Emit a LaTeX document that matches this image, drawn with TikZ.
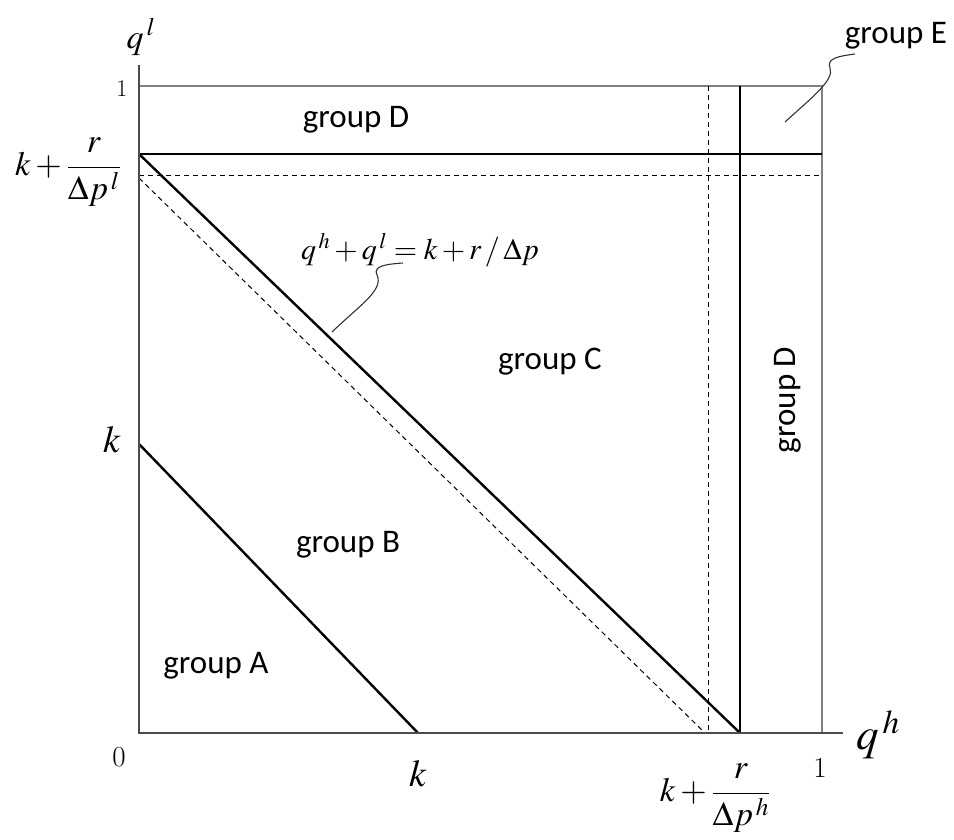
\documentclass[tikz,border=0pt]{standalone}
\usepackage{mathptmx}
\usepackage[no-math]{fontspec}
\setsansfont{Carlito}
\begin{document}
\begin{tikzpicture}[x=1pt,y=-1pt,
  axis/.style={draw=black!70, line width=1.6pt},
  frame/.style={draw=black!50, line width=1.2pt},
  thick line/.style={draw=black, line width=2.4pt},
  dash line/.style={draw=black, line width=1pt, dash pattern=on 5pt off 4pt},
  leader/.style={draw=black!80, line width=1.1pt},
  grp/.style={font=\sffamily\fontsize{33}{38}\selectfont, inner sep=0pt},
  mlab/.style={inner sep=0pt}
]
\useasboundingbox (0,0) rectangle (954,840);
% coordinates
\coordinate (O) at (139,733);
\coordinate (Ytop) at (139,65);
\coordinate (Xend) at (843,733);
\coordinate (TL) at (139,86);
\coordinate (TR) at (822,86);
\coordinate (BR) at (822,733);
\coordinate (HL) at (139,154);
\coordinate (HR) at (822,154);
\coordinate (DL) at (139,176);
\coordinate (DR) at (822,176);
\coordinate (VT) at (740,86);
\coordinate (VB) at (740,733);
\coordinate (WT) at (708,86);
\coordinate (WB) at (708,733);
\coordinate (DDs) at (139,178);
\coordinate (DDe) at (705,733);
\coordinate (Ks) at (139,444);
\coordinate (Ke) at (418,733);
% frame
\draw[frame] (TL) -- (TR) -- (BR);
% dashed lines
\draw[dash line] (DL) -- (DR);
\draw[dash line] (WT) -- (WB);
\draw[dash line] (DDs) -- (DDe);
% thick lines
\draw[thick line] (HL) -- (HR);
\draw[thick line] (VT) -- (VB);
\draw[thick line] (HL) -- (VB);
\draw[thick line] (Ks) -- (Ke);
% axes
\draw[axis] (Ytop) -- (O) -- (Xend);
% leaders
\draw[leader] (332,332) .. controls (360,305) and (384,290) .. (377,275) .. controls (372,265) and (390,264) .. (403,263);
\draw[leader] (785,122) .. controls (810,99) and (835,80) .. (830,68) .. controls (826,58) and (840,56) .. (855,54);
% group labels
\node[grp] (gD) at (356,120) {group D};
\node[grp] (gC) at (550,362) {group C};
\node[grp] (gB) at (348,545) {group B};
\node[grp] (gA) at (216,666) {group A};
\node[grp] (gE) at (896,36) {group E};
\node[grp, rotate=90] (gD2) at (788,400) {group D};
% math labels
\node[mlab, font=\fontsize{34}{40}\selectfont] (ql) at (141,37) {$q^{\,l}$};
\node[mlab, font=\fontsize{45}{50}\selectfont] (qh) at (878,735) {$q^{\,h}$};
\node[mlab, font=\fontsize{24}{28}\selectfont] (one1) at (122,89) {1};
\node[mlab, font=\fontsize{29}{32}\selectfont] (zero) at (119,757) {0};
\node[mlab, font=\fontsize{29}{32}\selectfont] (one2) at (820,768) {1};
\node[mlab, font=\fontsize{38}{42}\selectfont] (kl) at (112,440) {$k$};
\node[mlab, font=\fontsize{38}{42}\selectfont] (kb) at (418,774) {$k$};
\node[mlab, font=\fontsize{34}{40}\selectfont] (fl) at (68,172) {$\displaystyle k+\frac{r}{\Delta p^{\,l}}$};
\node[mlab, font=\fontsize{34}{40}\selectfont] (fh) at (715,798) {$\displaystyle k+\frac{r}{\Delta p^{\,h}}$};
\node[mlab, font=\fontsize{30}{34}\selectfont] (eq) at (420,250) {$q^{\,h}+q^{\,l}=k+r\,/\,\Delta p$};
\end{tikzpicture}
\end{document}
